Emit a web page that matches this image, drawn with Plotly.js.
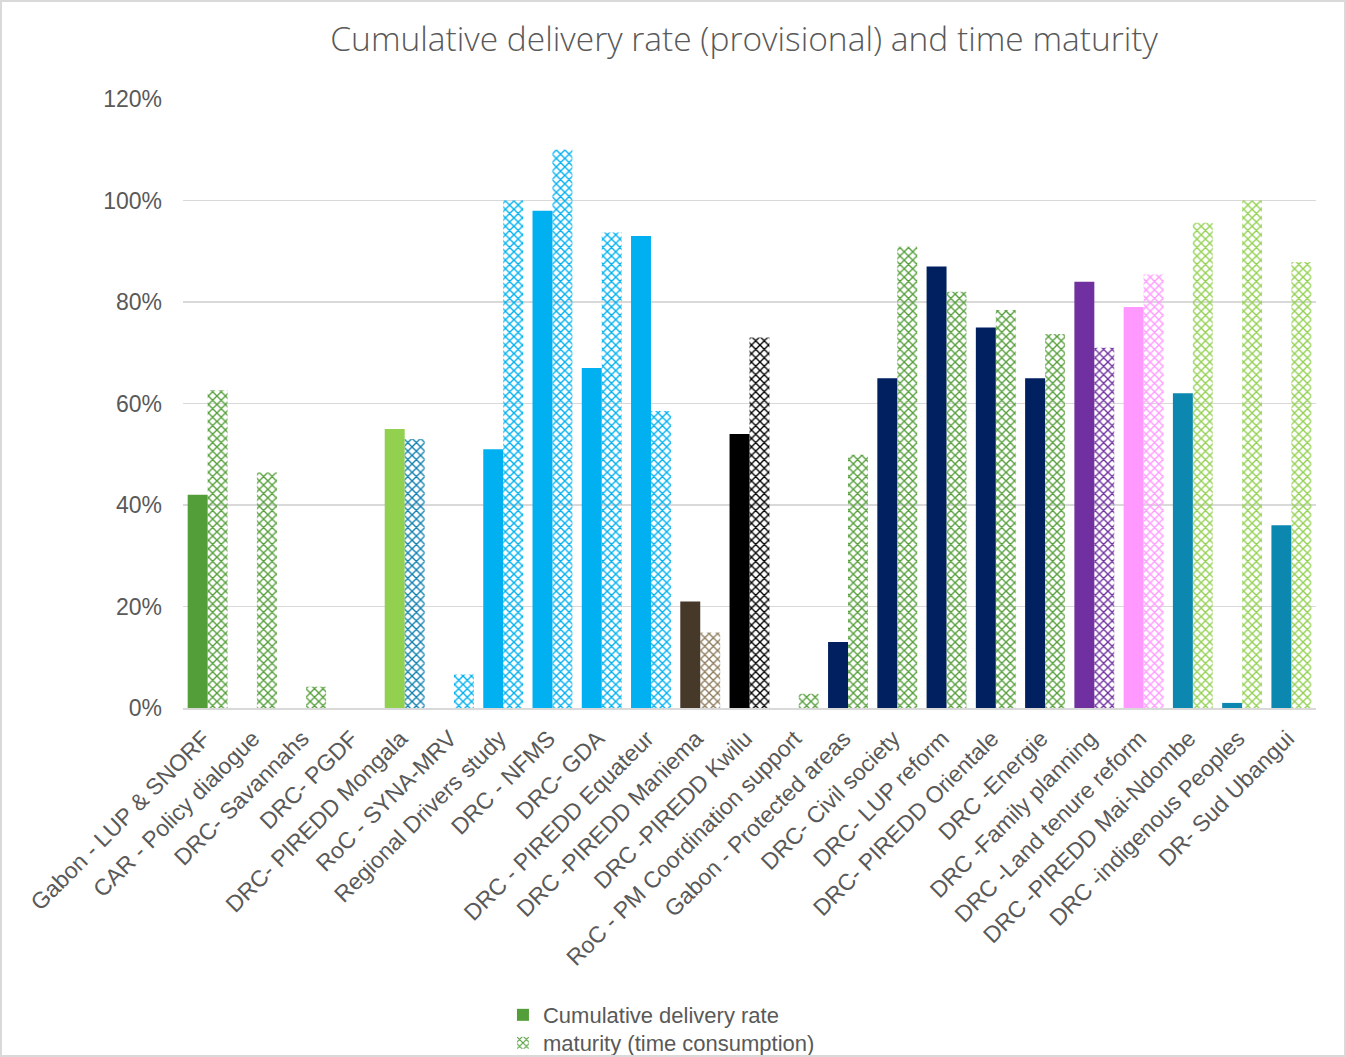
<!DOCTYPE html>
<html>
<head>
<meta charset="utf-8">
<script src="https://cdn.plot.ly/plotly-3.0.1.min.js"></script>
<style>
  html, body { margin: 0; padding: 0; background: #ffffff; }
  #chart { width: 1346px; height: 1057px; box-sizing: border-box; border: 2px solid #D9D9D9; }
</style>
</head>
<body>
<div id="chart"></div>
<script>
var projects = [
  "Gabon - LUP & SNORF", "CAR - Policy dialogue", "DRC- Savannahs", "DRC- PGDF",
  "DRC- PIREDD Mongala", "RoC - SYNA-MRV", "Regional Drivers study", "DRC - NFMS",
  "DRC- GDA", "DRC - PIREDD Equateur", "DRC -PIREDD Maniema", "DRC -PIREDD Kwilu",
  "RoC - PM Coordination support", "Gabon - Protected areas", "DRC- Civil society",
  "DRC- LUP reform", "DRC- PIREDD Orientale", "DRC -Energie", "DRC -Family planning",
  "DRC -Land tenure reform", "DRC -PIREDD Mai-Ndombe", "DRC -indigenous Peoples",
  "DR- Sud Ubangui"
];

var deliveryRate = [0.42, null, null, null, 0.55, null, 0.51, 0.98, 0.67, 0.93, 0.21, 0.54,
                    null, 0.13, 0.65, 0.87, 0.75, 0.65, 0.84, 0.79, 0.62, 0.01, 0.36];
var maturity = [0.626, 0.464, 0.042, null, 0.53, 0.066, 1.00, 1.10, 0.937, 0.585, 0.149, 0.73,
                0.028, 0.499, 0.909, 0.82, 0.784, 0.737, 0.71, 0.854, 0.956, 1.00, 0.879];

var deliveryColors = ["#549E39", "#549E39", "#549E39", "#549E39", "#92D050", "#00B0F0",
  "#00B0F0", "#00B0F0", "#00B0F0", "#00B0F0", "#47392A", "#000000", "#002060", "#002060",
  "#002060", "#002060", "#002060", "#002060", "#7030A0", "#FF99FF", "#0B87B0", "#0B87B0",
  "#0B87B0"];
var maturityColors = ["#549E39", "#549E39", "#549E39", "#549E39", "#0E7FB0", "#00B0F0",
  "#00B0F0", "#00B0F0", "#00B0F0", "#00B0F0", "#8C7A5B", "#000000", "#549E39", "#549E39",
  "#549E39", "#549E39", "#549E39", "#549E39", "#7030A0", "#FF99FF", "#92D050", "#92D050",
  "#92D050"];

var textColor = "#595959";

var trace1 = {
  x: projects,
  y: deliveryRate,
  name: "Cumulative delivery rate",
  type: "bar",
  legend: "legend",
  marker: { color: deliveryColors, line: { width: 0 } },
  hoverinfo: "x+y"
};

var trace2 = {
  x: projects,
  y: maturity,
  name: "maturity (time consumption)",
  type: "bar",
  legend: "legend2",
  marker: {
    color: maturityColors,
    line: { width: 0 },
    pattern: { shape: "x", size: 6, solidity: 0.4, bgcolor: "#ffffff" }
  },
  hoverinfo: "x+y"
};

// both legends share the same look, only their place differs
function legendAt(y) {
  return {
    orientation: "v",
    x: 0.2824, xanchor: "left",
    yref: "container", y: y, yanchor: "top",
    font: { size: 22, color: textColor },
    itemwidth: 30,
    bgcolor: "rgba(0,0,0,0)"
  };
}

var layout = {
  width: 1342,
  height: 1053,
  margin: { l: 181, r: 28, t: 97, b: 347, autoexpand: false },
  paper_bgcolor: "#ffffff",
  plot_bgcolor: "#ffffff",
  barmode: "group",
  bargap: 0.19,
  bargroupgap: 0,
  title: {
    text: "Cumulative delivery rate (provisional) and time maturity",
    font: { family: "Open Sans", size: 33.5, color: textColor, weight: 300 },
    x: 0.553, xanchor: "center", y: 0.965, yanchor: "middle"
  },
  font: { family: "Liberation Sans, Arial, sans-serif", color: textColor, size: 22 },
  xaxis: {
    tickangle: -45,
    tickfont: { size: 23, color: textColor },
    showline: true, linecolor: "#D9D9D9", linewidth: 2,
    showgrid: false, ticks: "", automargin: false,
    ticklabelstandoff: 6, ticklabelshift: -4
  },
  yaxis: {
    range: [0, 1.2],
    dtick: 0.2,
    tickformat: ".0%",
    tickfont: { size: 23, color: textColor },
    gridcolor: "#D9D9D9", gridwidth: 1.5,
    zeroline: false, showline: false,
    ticklabelstandoff: 20, automargin: false
  },
  showlegend: true,
  legend: legendAt(0.0579),
  legend2: legendAt(0.0313)
};

Plotly.newPlot("chart", [trace1, trace2], layout, { displayModeBar: false, staticPlot: true });
</script>
</body>
</html>
